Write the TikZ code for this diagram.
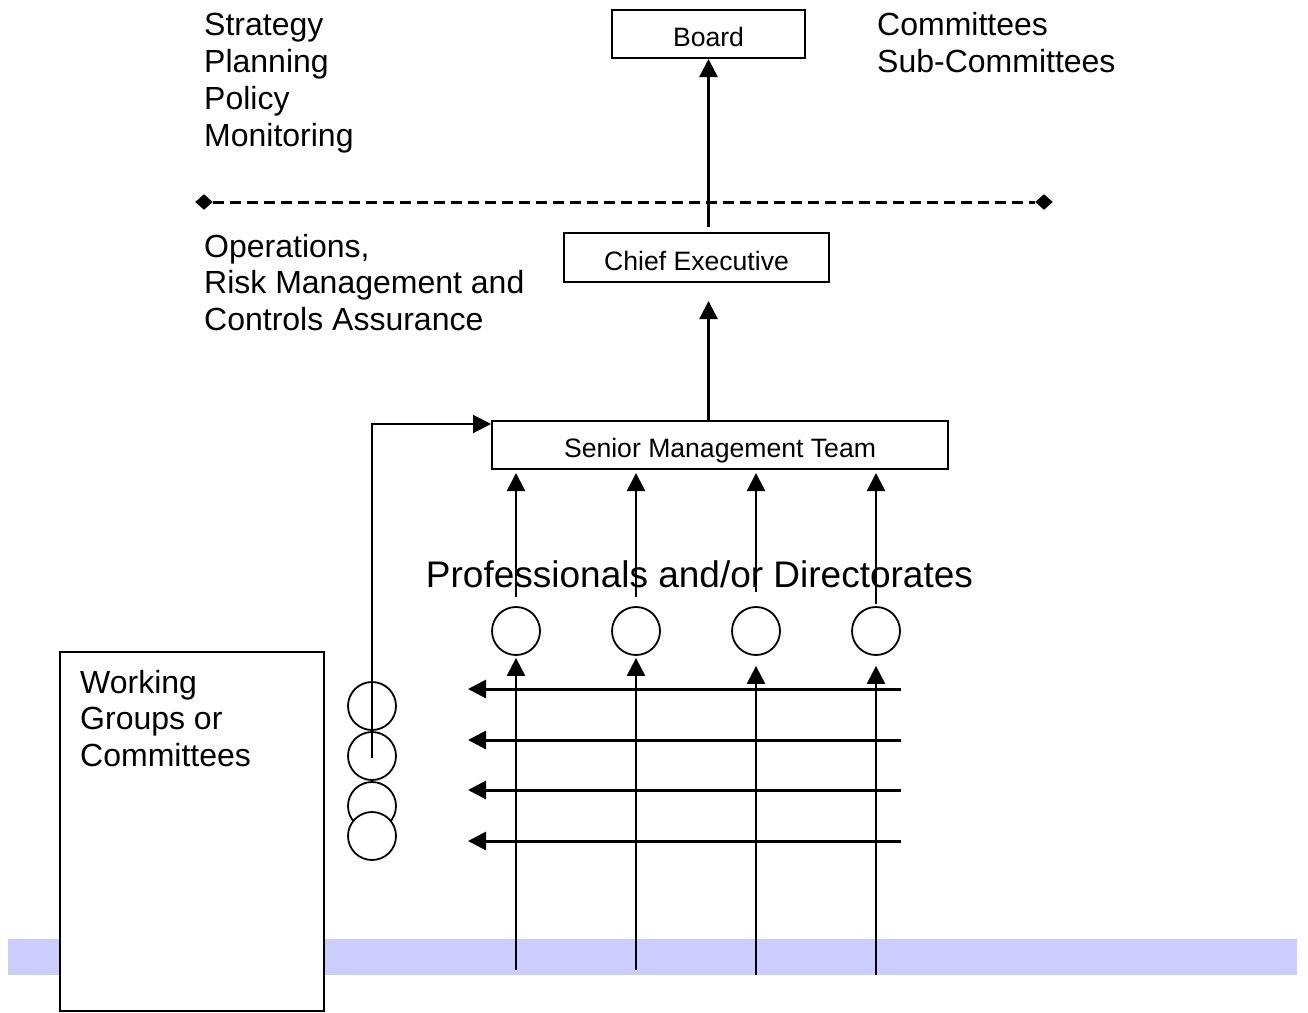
\documentclass[tikz,border=0pt]{standalone}
\usepackage{fontspec}
\setmainfont{Liberation Sans}
\usetikzlibrary{arrows.meta,shapes.geometric}
\definecolor{bandblue}{RGB}{204,204,255}
\begin{document}
\begin{tikzpicture}[x=1pt,y=-1pt,
  box/.style={draw,line width=2pt,rectangle,inner sep=0pt,text height=25pt,text depth=0pt,font=\fontsize{26.6}{30}\selectfont},
  lbl/.style={anchor=base west,inner sep=0pt,font=\fontsize{32}{36.8}\selectfont},
  circ/.style={draw,fill=white,circle,line width=1.8pt,minimum size=48pt,inner sep=0pt},
  tip/.style={-{Triangle[length=18pt,width=18pt]}},
  arr/.style={line width=2.5pt,tip},
  harr/.style={line width=3pt,tip},
  dia/.style={draw,fill=black,diamond,inner sep=0pt,minimum width=17pt,minimum height=15pt},
]
\useasboundingbox (0,0) rectangle (1308,1012);
% background band
\fill[bandblue] (8,939) rectangle (1297,975);

% left labels
\node[lbl] (s1) at (204,35) {Strategy};
\node[lbl] (s2) at (204,72) {Planning};
\node[lbl] (s3) at (204,109) {Policy};
\node[lbl] (s4) at (204,146) {Monitoring};
\node[lbl] (c1t) at (877,35) {Committees};
\node[lbl] (c2t) at (877,72) {Sub-Committees};
\node[lbl] (o1) at (204,257) {Operations,};
\node[lbl] (o2) at (204,293) {Risk Management and};
\node[lbl] (o3) at (204,330) {Controls Assurance};

% boxes
\node[box,minimum width=193pt,minimum height=48pt] (board) at (708.5,34) {Board};
\node[box,minimum width=265pt,minimum height=49pt] (ce) at (696.5,257.5) {Chief Executive};
\node[box,minimum width=456pt,minimum height=48pt] (smt) at (720,445) {Senior Management Team};

% dashed separator
\node[dia] (d1) at (204,202) {};
\node[dia] (d2) at (1044,202) {};
\draw[line width=3pt,dash pattern=on 11pt off 6pt] (d1) -- (d2);

% CE -> Board
\draw[arr] ([yshift=5pt]board.south |- ce.north) -- (board.south);
% SMT -> CE
\draw[arr,shorten >=18pt] (board.south |- smt.north) -- (board.south |- ce.south);

% working group box
\node[draw,fill=white,line width=1.5pt,minimum width=264pt,minimum height=359pt,inner sep=0pt] (wg) at (192,831.5) {};
\node[lbl] (wg1) at (80,693) {Working};
\node[lbl] (wg2) at (80,729) {Groups or};
\node[lbl] (wg3) at (80,766) {Committees};

% left circles
\node[circ] (w1) at (372,706) {};
\node[circ] (w2) at (372,756) {};
\node[circ] (w3) at (372,806) {};
\node[circ] (w4) at (372,836) {};
\draw[line width=2pt,tip] ([yshift=-2pt]w2.center) |- ([yshift=21pt]smt.west);

% professional circles
\node[circ] (p1) at (516,631) {};
\node[circ] (p2) at (636,631) {};
\node[circ] (p3) at (756,631) {};
\node[circ] (p4) at (876,631) {};

% arrows circles -> SMT
\foreach \p/\s in {p1/9,p2/9,p3/14,p4/2} {
  \draw[arr,shorten >=3pt] ([yshift=\s pt]\p.north) -- (\p.north |- smt.south);
}

% horizontal arrows
\coordinate (h1a) at (901,689); \coordinate (h1b) at (468,689);
\coordinate (h2a) at (901,740); \coordinate (h2b) at (468,740);
\coordinate (h3a) at (901,790); \coordinate (h3b) at (468,790);
\coordinate (h4a) at (901,841); \coordinate (h4b) at (468,841);
\draw[harr] (h1a) -- (h1b);
\draw[harr] (h2a) -- (h2b);
\draw[harr] (h3a) -- (h3b);
\draw[harr] (h4a) -- (h4b);

% bottom arrows up to circles
\coordinate (b1) at (516,970);
\coordinate (b2) at (636,970);
\coordinate (b3) at (756,975);
\coordinate (b4) at (876,975);
\draw[arr,shorten >=2pt] (b1) -- (p1.south);
\draw[arr,shorten >=2pt] (b2) -- (p2.south);
\draw[arr,shorten >=10pt] (b3) -- (p3.south);
\draw[arr,shorten >=10pt] (b4) -- (p4.south);

% big label
\node[anchor=base,inner sep=0pt,font=\fontsize{37}{42}\selectfont] (prof) at (699.5,587) {Professionals and/or Directorates};
\end{tikzpicture}
\end{document}
